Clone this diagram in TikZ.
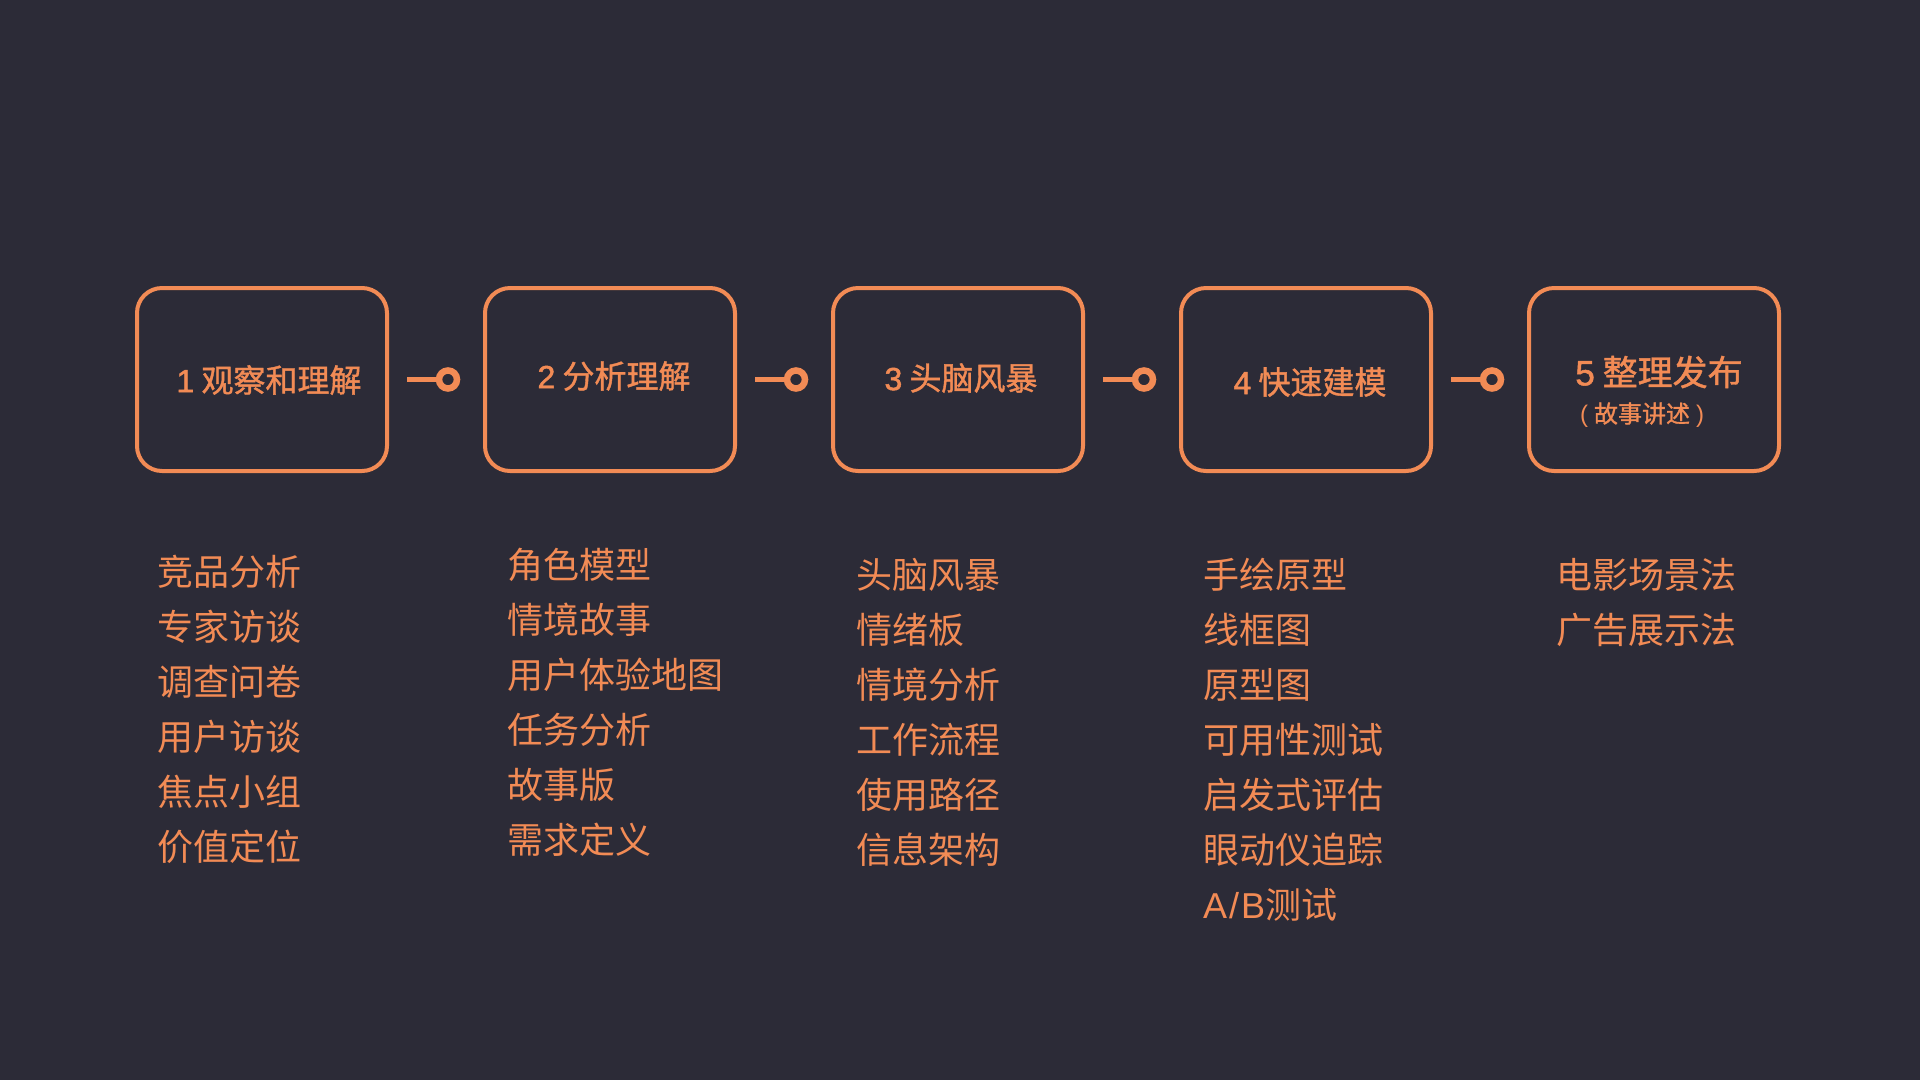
\documentclass[tikz,border=0pt]{standalone}
\usepackage{fontspec}
\setmainfont{Noto Sans CJK SC}
\newfontfamily\medfont[FakeBold=1.2]{Noto Sans CJK SC}
\newfontfamily\latinfont{Liberation Sans}
\newfontfamily\latinmed[FakeBold=1.5]{Liberation Sans}
\definecolor{bg}{HTML}{2C2B37}
\definecolor{org}{HTML}{F28B55}
\begin{document}
\begin{tikzpicture}[x=1pt,y=-1pt,
  stagebox/.style={draw=org, line width=4pt, rounded corners=25pt, minimum width=250pt, minimum height=183pt, inner sep=0pt},
  title/.style={text=org, inner sep=0pt, font=\fontsize{32}{32}\selectfont\medfont},
  bigtitle/.style={text=org, inner sep=0pt, font=\fontsize{35}{35}\selectfont\medfont},
  subtitle/.style={text=org, inner sep=0pt, font=\fontsize{24}{24}\selectfont\medfont},
  item/.style={text=org, inner sep=0pt, anchor=west, font=\fontsize{36}{36}\selectfont},
  conn/.style={draw=org, line width=5pt},
  ring/.style={draw=org, fill=bg, line width=6.5pt}]
\fill[bg] (0,0) rectangle (1920,1080);
\useasboundingbox (0,0) rectangle (1920,1080);

\foreach \i/\x in {1/262,2/610,3/958,4/1306,5/1654}{
  \node[stagebox] (b\i) at (\x,379.5) {};
}
\node[title] (t1) at (269,380) {{\latinmed 1} 观察和理解};
\node[title] (t2) at (614,376) {{\latinmed 2} 分析理解};
\node[title] (t3) at (961,378) {{\latinmed 3} 头脑风暴};
\node[title] (t4) at (1310,382) {{\latinmed 4} 快速建模};
\node[bigtitle] (t5) at (1659,372) {{\latinmed 5} 整理发布};
\node[subtitle] (s5) at (1642,415) {{\latinfont (}\hspace{6pt}故事讲述\hspace{6pt}{\latinfont )}};

\foreach \i in {1,2,3,4}{
  \coordinate (ca\i) at ([xshift=18pt]b\i.east);
  \coordinate (cb\i) at ([xshift=50pt]b\i.east);
  \coordinate (cc\i) at ([xshift=59pt]b\i.east);
  \draw[conn] (ca\i) -- (cb\i);
  \draw[ring] (cc\i) circle (9);
}

% column 1
\foreach \t [count=\n from 0] in {竞品分析,专家访谈,调查问卷,用户访谈,焦点小组,价值定位}{
  \node[item] (a\n) at (157,572+55*\n) {\t};
}
% column 2
\foreach \t [count=\n from 0] in {角色模型,情境故事,用户体验地图,任务分析,故事版,需求定义}{
  \node[item] (m\n) at (507,565+55*\n) {\t};
}
% column 3
\foreach \t [count=\n from 0] in {头脑风暴,情绪板,情境分析,工作流程,使用路径,信息架构}{
  \node[item] (h\n) at (856,575+55*\n) {\t};
}
% column 4
\foreach \t [count=\n from 0] in {手绘原型,线框图,原型图,可用性测试,启发式评估,眼动仪追踪}{
  \node[item] (p\n) at (1203,575+55*\n) {\t};
}
\node[item] (p6) at (1203,905) {{\latinfont A\kern2pt/\kern2pt B}测试};
% column 5
\foreach \t [count=\n from 0] in {电影场景法,广告展示法}{
  \node[item] (f\n) at (1556,575+55*\n) {\t};
}
\end{tikzpicture}
\end{document}
